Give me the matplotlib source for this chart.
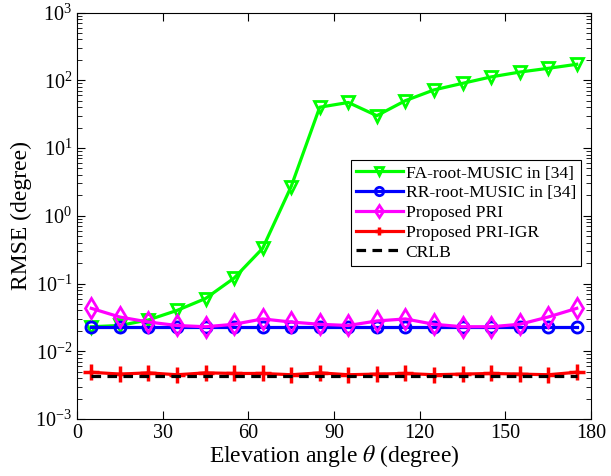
import matplotlib
matplotlib.use("Agg")
import matplotlib.pyplot as plt
import numpy as np
from matplotlib.ticker import LogLocator, FixedLocator

plt.rcParams['font.family'] = ['Liberation Serif', 'DejaVu Serif']
plt.rcParams['mathtext.fontset'] = 'stix'

theta = [5, 15, 25, 35, 45, 55, 65, 75, 85, 95, 105, 115, 125, 135, 145, 155, 165, 175]
fa_root_music = [0.023, 0.024, 0.029, 0.040, 0.060, 0.12, 0.33, 2.7, 40, 47, 30, 50,
                 72, 90, 112, 132, 150, 172]
rr_root_music = [0.023, 0.023, 0.023, 0.023, 0.023, 0.023, 0.023, 0.023, 0.023, 0.023,
                 0.023, 0.023, 0.023, 0.023, 0.023, 0.023, 0.023, 0.023]
proposed_pri = [0.043, 0.032, 0.027, 0.024, 0.023, 0.025, 0.030, 0.027, 0.025, 0.024,
                0.028, 0.030, 0.025, 0.023, 0.023, 0.025, 0.032, 0.043]
proposed_pri_igr = [0.0049, 0.0046, 0.0048, 0.0045, 0.0048, 0.0047, 0.0047, 0.0045, 0.0048,
                    0.0045, 0.0046, 0.0047, 0.0045, 0.0046, 0.0047, 0.0046, 0.0045, 0.0049]
crlb = [0.0043] * 18

fig = plt.figure(figsize=(6.11, 4.76), dpi=100)
ax = fig.add_axes([77/611, 1-419/476, (591-77)/611, (419-12.5)/476])

lw = 2.3
ax.plot(theta, fa_root_music, color='#00ff00', lw=lw, marker='v', ms=9, mfc='none', mew=2,
        label='FA-root-MUSIC in [34]')
ax.plot(theta, rr_root_music, color='#0000ff', lw=lw, marker='o', ms=8, mfc='none', mew=2,
        label='RR-root-MUSIC in [34]')
ax.plot(theta, proposed_pri, color='#ff00ff', lw=lw, marker='d', ms=10, mfc='none', mew=2,
        label='Proposed PRI')
ax.plot(theta, proposed_pri_igr, color='#ff0000', lw=lw, marker='+', ms=12, mew=2.5,
        label='Proposed PRI-IGR')
ax.plot(theta, crlb, color='black', lw=lw, ls=(0, (3, 2)), label='CRLB')

ax.set_yscale('log')
ax.set_xlim(0, 180)
ax.set_ylim(1e-3, 1e3)
ax.xaxis.set_major_locator(FixedLocator([0, 30, 60, 90, 120, 150, 180]))
ax.yaxis.set_major_locator(LogLocator(base=10, numticks=10))
ax.yaxis.set_minor_locator(LogLocator(base=10, subs=np.arange(2, 10), numticks=20))
ax.tick_params(which='both', direction='in', top=True, right=True, labelsize=14.5)
ax.tick_params(which='major', length=6)
ax.tick_params(which='minor', length=3.5)

ax.set_xlabel(r'Elevation angle $\theta$ (degree)', fontsize=17, labelpad=0)
ax.set_ylabel('RMSE (degree)', fontsize=17, labelpad=2)

leg = ax.legend(loc='upper right', bbox_to_anchor=(0.981, 0.637), borderaxespad=0,
                fontsize=12.6, fancybox=False, edgecolor='black', framealpha=1,
                handlelength=2.7, handletextpad=0.15, labelspacing=0.2, borderpad=0.3)
leg.get_frame().set_linewidth(0.8)
for h in leg.legend_handles:
    h.set_markersize(6)

fig.savefig('out.png', dpi=100)
